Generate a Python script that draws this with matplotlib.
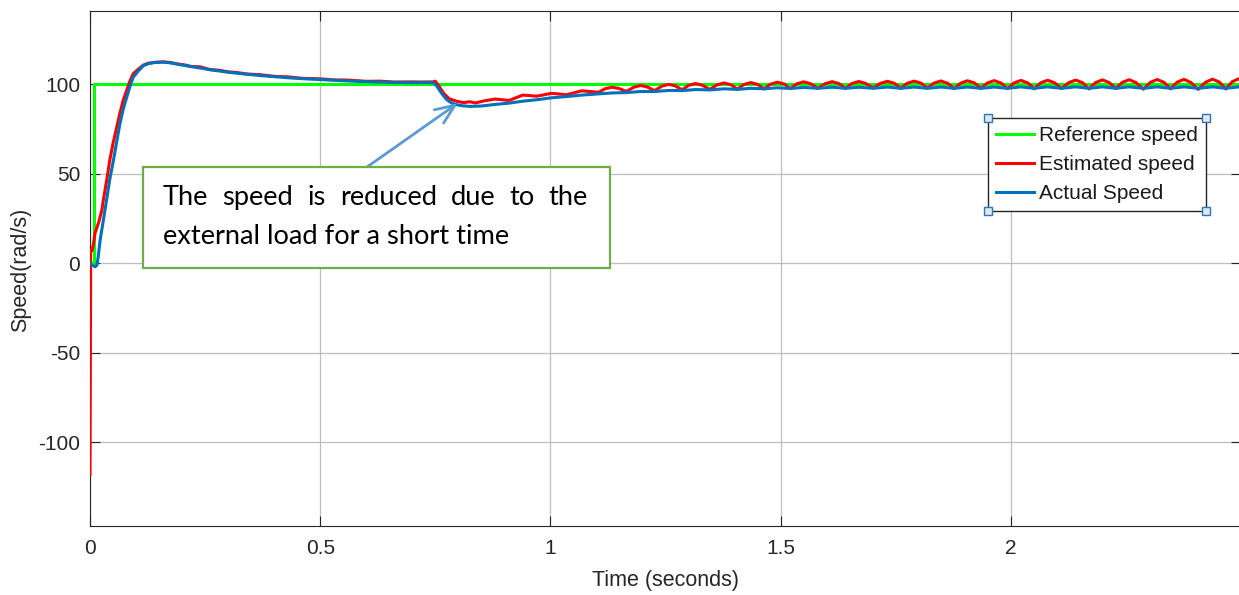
import matplotlib
matplotlib.use("Agg")
import matplotlib.pyplot as plt
from matplotlib.patches import Rectangle
from matplotlib.lines import Line2D

plt.rcParams["font.family"] = ["Liberation Sans", "DejaVu Sans"]

# ---------------- data ----------------
# Reference speed command (rad/s)
t_ref = [0.000, 0.009, 0.009, 2.500]
v_ref = [0.0, 0.0, 100.0, 100.0]

# Start-up and load-step transient, estimated speed
t_est_early = [0.000, 0.0015, 0.004, 0.007, 0.011, 0.015, 0.019, 0.022, 0.026, 0.029,
               0.036, 0.043, 0.050, 0.058, 0.065, 0.072, 0.080, 0.087, 0.094, 0.105,
               0.116, 0.127, 0.140, 0.159, 0.175, 0.190, 0.205, 0.220, 0.240, 0.260,
               0.280, 0.300, 0.320, 0.340, 0.370, 0.400, 0.430, 0.460, 0.500, 0.530,
               0.560, 0.600, 0.630, 0.660, 0.700, 0.720, 0.745, 0.750, 0.758, 0.768,
               0.780, 0.797, 0.812, 0.825, 0.837, 0.855]
v_est_early = [-118.0, 8.0, 7.0, 10.0, 17.0, 20.0, 23.0, 26.0, 30.0, 35.4,
               46.0, 57.7, 67.0, 76.0, 84.0, 91.0, 97.0, 102.0, 106.0, 108.5,
               110.8, 111.8, 112.3, 112.6, 112.2, 111.4, 110.9, 110.0, 109.8, 108.3,
               107.9, 107.0, 106.6, 105.8, 105.4, 104.5, 104.2, 103.4, 103.1, 102.5,
               102.4, 101.7, 101.8, 101.3, 101.4, 101.3, 101.4, 101.8, 99.0, 95.0,
               92.0, 90.5, 89.8, 90.3, 89.6, 90.7]

# Recovery and steady-state ripple of the estimated speed
t_est_late = [0.880, 0.910, 0.940, 0.970, 1.003, 1.035, 1.068, 1.105,
              1.119, 1.134, 1.149, 1.165, 1.181, 1.196, 1.211, 1.226,
              1.242, 1.257, 1.272, 1.286, 1.300, 1.315, 1.330, 1.346,
              1.362, 1.377, 1.392, 1.406, 1.420, 1.435, 1.450, 1.464,
              1.478, 1.493, 1.508, 1.521, 1.535, 1.550, 1.565, 1.581,
              1.597, 1.612, 1.627, 1.641, 1.655, 1.670, 1.685, 1.701,
              1.717, 1.732, 1.747, 1.761, 1.775, 1.790, 1.805, 1.819,
              1.833, 1.848, 1.863, 1.877, 1.891, 1.906, 1.921, 1.935,
              1.949, 1.964, 1.979, 1.993, 2.007, 2.022, 2.037, 2.051,
              2.065, 2.080, 2.095, 2.110, 2.126, 2.141, 2.156, 2.170,
              2.184, 2.199, 2.214, 2.228, 2.242, 2.257, 2.272, 2.288,
              2.303, 2.318, 2.333, 2.347, 2.361, 2.376, 2.391, 2.407,
              2.423, 2.438, 2.453, 2.467, 2.481, 2.496, 2.500]
v_est_late = [91.8, 91.0, 94.0, 93.4, 95.0, 94.2, 96.4, 95.6,
              97.6, 98.4, 97.7, 96.0, 98.4, 99.4, 98.5, 96.5,
              99.0, 100.0, 99.1, 96.9, 99.4, 100.5, 99.5, 97.2,
              99.7, 100.8, 99.8, 97.3, 99.9, 101.0, 100.0, 97.5,
              100.1, 101.2, 100.2, 97.6, 100.3, 101.4, 100.4, 97.8,
              100.4, 101.5, 100.4, 97.7, 100.5, 101.6, 100.5, 98.0,
              100.6, 101.7, 100.6, 97.8, 100.6, 101.8, 100.7, 97.9,
              100.7, 101.9, 100.6, 97.6, 100.7, 102.0, 100.8, 97.8,
              100.8, 102.1, 100.7, 97.6, 100.8, 102.2, 100.8, 97.5,
              100.9, 102.3, 100.9, 97.7, 101.0, 102.4, 100.9, 97.4,
              101.0, 102.5, 101.0, 97.6, 101.1, 102.6, 101.0, 97.3,
              101.1, 102.7, 101.1, 97.5, 101.2, 102.8, 101.1, 97.2,
              101.2, 102.9, 101.3, 97.4, 101.5, 103.2, 103.1]

# Start-up and load-step transient, actual (measured) speed
t_act_early = [0.000, 0.005, 0.011, 0.015, 0.018, 0.022, 0.029, 0.036, 0.043, 0.051,
               0.058, 0.065, 0.072, 0.080, 0.087, 0.094, 0.105, 0.116, 0.127, 0.140,
               0.159, 0.175, 0.190, 0.205, 0.220, 0.240, 0.260, 0.280, 0.300, 0.320,
               0.340, 0.370, 0.400, 0.430, 0.460, 0.500, 0.530, 0.560, 0.600, 0.630,
               0.660, 0.700, 0.720, 0.745, 0.752, 0.761, 0.768, 0.775, 0.786, 0.797,
               0.810, 0.826, 0.850]
v_act_early = [0.0, -1.0, -2.0, -1.0, 4.0, 13.0, 24.0, 35.4, 47.0, 57.7,
               68.0, 78.0, 86.0, 93.0, 99.0, 104.0, 107.5, 110.5, 111.6, 112.2,
               112.4, 112.0, 111.3, 110.6, 109.9, 109.1, 108.2, 107.5, 106.8, 106.2,
               105.7, 104.9, 104.3, 103.7, 103.2, 102.7, 102.3, 101.9, 101.5, 101.3,
               101.1, 101.0, 101.0, 101.0, 99.5, 96.0, 93.5, 91.4, 89.5, 88.6,
               88.0, 87.7, 87.9]

# Recovery and steady state of the actual speed (small ripple)
t_act_late = [0.880, 0.910, 0.940, 0.970, 1.003, 1.035, 1.068, 1.105, 1.134, 1.165,
              1.196, 1.226, 1.257, 1.286, 1.315, 1.346, 1.377, 1.406, 1.435, 1.464,
              1.493, 1.521, 1.550, 1.581, 1.612, 1.641, 1.670, 1.701, 1.732, 1.761,
              1.790, 1.819, 1.848, 1.877, 1.906, 1.935, 1.964, 1.993, 2.022, 2.051,
              2.080, 2.110, 2.141, 2.170, 2.199, 2.228, 2.257, 2.288, 2.318, 2.347,
              2.376, 2.407, 2.438, 2.467, 2.496, 2.500]
v_act_late = [88.8, 89.5, 90.6, 91.4, 92.5, 93.2, 94.0, 94.7, 95.2, 95.4,
              96.0, 96.0, 96.6, 96.5, 97.1, 96.9, 97.5, 97.2, 97.8, 97.5,
              98.1, 97.7, 98.3, 97.8, 98.4, 97.8, 98.4, 97.8, 98.5, 97.8,
              98.5, 97.8, 98.5, 97.8, 98.5, 97.8, 98.5, 97.8, 98.6, 97.8,
              98.6, 97.8, 98.6, 97.8, 98.6, 97.8, 98.6, 97.8, 98.6, 97.8,
              98.6, 97.8, 98.6, 97.8, 98.6, 98.5]

t_est = t_est_early + t_est_late
v_est = v_est_early + v_est_late
t_act = t_act_early + t_act_late
v_act = v_act_early + v_act_late

series_labels = ["Reference speed", "Estimated speed", "Actual Speed"]
x_ticks = [0, 0.5, 1, 1.5, 2]
x_tick_labels = ["0", "0.5", "1", "1.5", "2"]
y_ticks = [-100, -50, 0, 50, 100]
y_tick_labels = ["-100", "-50", "0", "50", "100"]

note_line1 = "The speed is reduced due to the"
note_line2 = "external load for a short time"

# ---------------- figure ----------------
W, H = 1239, 595
fig = plt.figure(figsize=(W / 100, H / 100), dpi=100)


def fx(px):
    return px / W


def fy(py):
    return 1 - py / H


ax = fig.add_axes([fx(90), fy(526), fx(1241) - fx(90), fy(11) - fy(526)])

ax.plot(t_ref, v_ref, color="#00FF00", lw=2.2, label=series_labels[0], zorder=3)
ax.plot(t_est, v_est, color="#FF0000", lw=2.2, label=series_labels[1], zorder=4,
        solid_joinstyle="round")
ax.plot(t_act, v_act, color="#0072BD", lw=2.2, label=series_labels[2], zorder=5,
        solid_joinstyle="round")

ax.set_xlim(0, 2.5)
ax.set_ylim(-146.8, 141.0)
ax.set_xticks(x_ticks)
ax.set_xticklabels(x_tick_labels)
ax.set_yticks(y_ticks)
ax.set_yticklabels(y_tick_labels)
ax.grid(True, color="#BEBEBE", lw=0.9)
ax.set_axisbelow(True)
ax.tick_params(direction="in", length=7, width=0.8, top=True, right=True,
               labelsize=15, colors="#262626")
ax.tick_params(axis="x", pad=9)
ax.tick_params(axis="y", pad=7)
for sp in ax.spines.values():
    sp.set_color("#262626")
    sp.set_linewidth(0.8)

fig.text(fx(665), fy(586), "Time (seconds)", ha="center", va="baseline",
         fontsize=15.5, color="#262626")
fig.text(fx(21), fy(270), "Speed(rad/s)", ha="center", va="center",
         rotation=90, fontsize=15.5, color="#262626")

leg = ax.legend(loc="upper left", bbox_to_anchor=(fx(988), fy(118)),
                bbox_transform=fig.transFigure, fontsize=15, frameon=True,
                fancybox=False, edgecolor="#262626", framealpha=1,
                borderpad=0.4, labelspacing=0.47, handlelength=1.8,
                handletextpad=0.25, borderaxespad=0)
leg.get_frame().set_linewidth(1.0)
for txt in leg.get_texts():
    txt.set_color("#1a1a1a")

# callout arrow pointing at the speed dip
ax.annotate("", xy=(0.799, 89.5), xytext=(0.6015, 53.8),
            arrowprops=dict(arrowstyle="->,head_length=1.4,head_width=0.58",
                            color="#5B9BD5", lw=2, shrinkA=0, shrinkB=0),
            zorder=6)

# callout box
fig.patches.append(Rectangle((fx(143), fy(268)), fx(610) - fx(143), fy(167) - fy(268),
                             transform=fig.transFigure, facecolor="white",
                             edgecolor="#70AD47", lw=1.6, zorder=2))

renderer = fig.canvas.get_renderer()
fs = 19
t2 = fig.text(fx(163), fy(244), note_line2, fontsize=fs, family="Lato",
              ha="left", va="baseline", color="black", zorder=3)
w2 = t2.get_window_extent(renderer).width
fs = fs * 347.0 / w2
t2.set_fontsize(fs)

# first line is justified between the box margins
words = note_line1.split()
word_artists = [fig.text(0, fy(205), wd, fontsize=fs, family="Lato", ha="left",
                         va="baseline", color="black", zorder=3) for wd in words]
widths = [a.get_window_extent(renderer).width for a in word_artists]
left, right = 163.0, 588.0
gap = (right - left - sum(widths)) / (len(words) - 1)
x = left
for a, wdt in zip(word_artists, widths):
    a.set_x(fx(x))
    x += wdt + gap

# selection handles on the legend frame
fig.canvas.draw()
bb = leg.get_frame().get_window_extent(renderer)
for cx, cy in [(bb.x0, bb.y0), (bb.x1, bb.y0), (bb.x0, bb.y1), (bb.x1, bb.y1)]:
    fig.add_artist(Line2D([cx / W], [cy / H], marker="s", ms=5.5,
                          mfc="#DCE9F5", mec="#2E75B6", mew=1.0,
                          transform=fig.transFigure, zorder=10))

fig.savefig("out.png", dpi=100)
